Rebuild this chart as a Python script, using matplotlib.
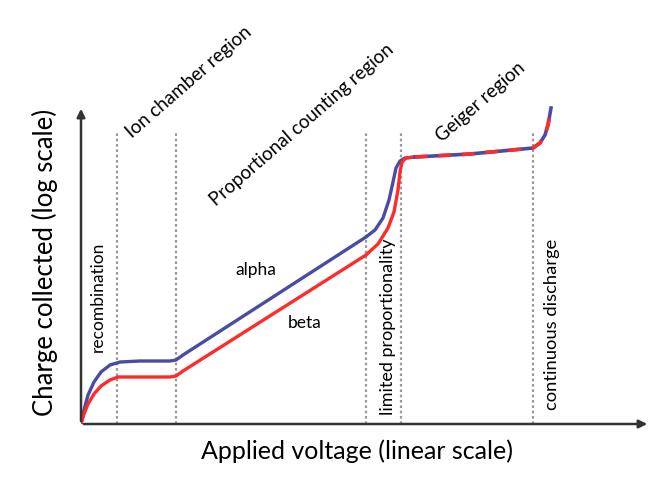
import matplotlib
matplotlib.use("Agg")
import matplotlib.pyplot as plt

plt.rcParams['font.family'] = ['Lato', 'DejaVu Sans']

# curves (arbitrary units: voltage vs charge)
alpha_v = [0, 3, 7, 13, 20, 29, 39, 59, 79, 89, 95, 102, 285, 294, 302, 308, 312, 315, 319, 324, 334]
alpha_q = [0, 14, 29, 42, 52, 59, 62, 63, 63, 63, 64, 69, 187, 194, 206, 224, 242, 256, 263, 266, 267]
beta_v = [0, 3, 7, 13, 20, 29, 37, 59, 89, 95, 102, 285, 297, 307, 313, 317, 319, 321, 325, 334]
beta_q = [0, 10, 20, 30, 38, 44, 47, 47, 47, 48, 53, 169, 180, 196, 212, 234, 252, 262, 266, 267]
# shared part (Geiger region and discharge)
geiger_v = [334, 389, 452, 459, 464, 467, 470]
geiger_q = [267, 270, 276, 281, 289, 299, 316]

# region boundaries
bounds = [36, 95, 285, 320, 452]
bound_top = 291

regions = ["Ion chamber region", "Proportional counting region", "Geiger region"]
region_pos = [(108, 342), (221, 299), (400, 322)]
vlabels = ["recombination", "limited proportionality", "continuous discharge"]
vlabel_pos = [(17, 127), (307, 97), (471, 100)]
vlabel_size = [12.5, 13, 13.2]

blue = '#4b4ba3'
red = '#ff2a2a'

fig = plt.figure(figsize=(6.65, 4.8), dpi=100)
ax = fig.add_axes([81 / 665, 56 / 480, 569 / 665, 318 / 480])
ax.set_xlim(0, 569)
ax.set_ylim(0, 318)
ax.axis('off')

for b in bounds:
    ax.plot([b, b], [0, bound_top], color='#9a9a9a', lw=1.6, ls=(0, (1.2, 1.2)))

ax.plot(alpha_v, alpha_q, color=blue, lw=2.4, solid_capstyle='round')
ax.plot(beta_v, beta_q, color=red, lw=2.4, solid_capstyle='round')
ax.plot(geiger_v, geiger_q, color=blue, lw=2.6)
ax.plot(geiger_v, geiger_q, color=red, lw=2.6, ls=(0, (3.5, 3)))

# axes arrows
arrow = dict(arrowstyle='-|>', color='#333333', lw=1.8, mutation_scale=12)
ax.annotate('', xy=(1, 0), xytext=(0, 0), xycoords='axes fraction', arrowprops=arrow)
ax.annotate('', xy=(0, 1), xytext=(0, 0), xycoords='axes fraction', arrowprops=arrow)

for t, (x, y) in zip(regions, region_pos):
    ax.text(x, y, t, rotation=41, ha='center', va='center', fontsize=13.5, clip_on=False)
for t, (x, y), s in zip(vlabels, vlabel_pos, vlabel_size):
    ax.text(x, y, t, rotation=90, ha='center', va='center', fontsize=s, clip_on=False)

ax.text(175, 154, "alpha", ha='center', va='center', fontsize=12.5)
ax.text(224, 101, "beta", ha='center', va='center', fontsize=12.5)

fig.text(357 / 665, 1 - 451 / 480, "Applied voltage (linear scale)", ha='center', va='center', fontsize=18)
fig.text(45 / 665, 1 - 262 / 480, "Charge collected (log scale)", rotation=90, ha='center', va='center', fontsize=18.5)

fig.savefig("out.png", dpi=100)
